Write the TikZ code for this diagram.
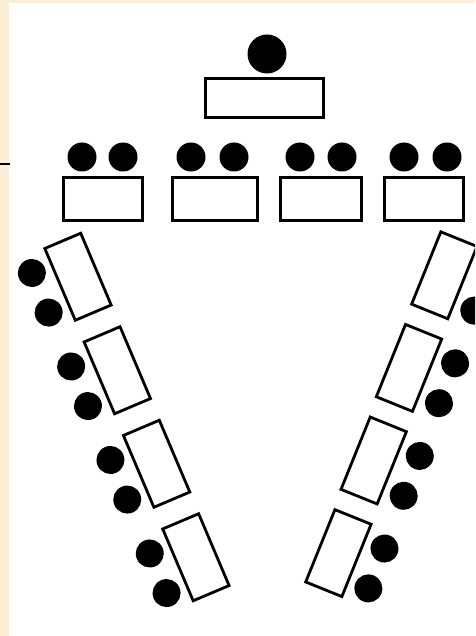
\documentclass[tikz,border=0pt]{standalone}
\usetikzlibrary{calc}
\definecolor{cream}{RGB}{252,238,214}
\tikzset{
  desk/.style={draw=black, fill=white, line width=2.8pt, rectangle, inner sep=0pt},
  diagdesk/.style={desk, minimum width=39pt, minimum height=78pt},
  pupil/.style={circle, fill=black, inner sep=0pt, minimum size=28pt},
  teacher/.style={circle, fill=black, inner sep=0pt, minimum size=39pt},
}
\begin{document}
\begin{tikzpicture}[x=1pt,y=1pt]
\useasboundingbox (0,0) rectangle (475,-636);
\clip (0,0) rectangle (475,-636);
\fill[white] (0,0) rectangle (475,-636);
\fill[cream] (0,0) rectangle (9,-636);
\fill[cream] (0,0) rectangle (475,-3);
\coordinate (ms) at (0,-164);
\coordinate (me) at (10,-164);
\draw[line width=2pt] (ms) -- (me);

% teacher
\node[teacher] (t) at (267,-54) {};
\node[desk, minimum width=118pt, minimum height=39pt] (td) at (264.5,-98) {};

% front row
\node[desk, minimum width=79pt, minimum height=43pt] (r1) at (103,-199) {};
\node[desk, minimum width=85pt, minimum height=43pt] (r2) at (215,-199) {};
\node[desk, minimum width=81pt, minimum height=43pt] (r3) at (321,-199) {};
\node[desk, minimum width=79pt, minimum height=43pt] (r4) at (424,-199) {};
\foreach \x [count=\i] in {82,123,191,234,300,342,404,447}
  \node[pupil, minimum size=29pt] (p\i) at (\x,-157) {};

% left diagonal
\foreach \cx/\cy [count=\k] in {78/-276.75, 117.3/-370.25, 156.6/-463.75, 195.9/-557.25}{
  \begin{scope}[shift={(\cx,\cy)}, rotate=23, transform shape]
    \node[diagdesk] (ld\k) at (0,0) {};
    \node[pupil] (la\k) at (-41,21.5) {};
    \node[pupil] (lb\k) at (-41,-21.5) {};
  \end{scope}
}

% right diagonal
\begin{scope}[shift={(444.3,-275.3)}, rotate=-22, transform shape]
  \node[diagdesk] (rd1) at (0,0) {};
  \node[pupil] (rb1) at (41,-21.5) {};
\end{scope}
\foreach \cx/\cy [count=\k from 2] in {409/-367.9, 373.7/-460.5, 338.4/-553.1}{
  \begin{scope}[shift={(\cx,\cy)}, rotate=-22, transform shape]
    \node[diagdesk] (rd\k) at (0,0) {};
    \node[pupil] (ra\k) at (41,21.5) {};
    \node[pupil] (rb\k) at (41,-21.5) {};
  \end{scope}
}
\end{tikzpicture}
\end{document}
